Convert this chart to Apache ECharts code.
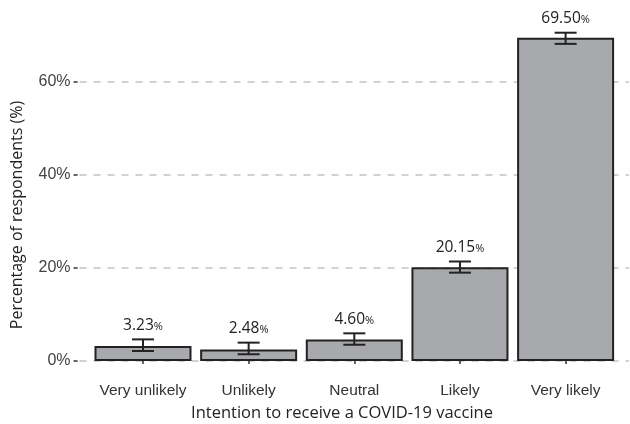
<!DOCTYPE html>
<html>
<head>
<meta charset="utf-8">
<script src="https://cdn.jsdelivr.net/npm/echarts@6/dist/echarts.min.js"></script>
<style>
  html, body { margin: 0; padding: 0; background: #fff; }
  #chart { width: 630px; height: 424px; }
</style>
</head>
<body>
<div id="chart"></div>
<script>
// intention categories and share of respondents (%)
const categories = ["Very unlikely", "Unlikely", "Neutral", "Likely", "Very likely"];
const percents = [3.23, 2.48, 4.60, 20.15, 69.50];
// error bar ends
const errLow = [2.15, 1.45, 3.5, 19.0, 68.2];
const errHigh = [4.65, 3.95, 5.95, 21.4, 70.6];
const yTicks = [0, 20, 40, 60];
const xTicks = [1, 2, 3, 4, 5];

const chart = echarts.init(document.getElementById("chart"));

const option = {
  animation: false,
  grid: {
    left: 79.6,
    right: 1,
    top: 12.25,
    bottom: 63,
  },
  xAxis: {
    type: "value",
    min: 0.4,
    max: 5.6,
    offset: 16,
    axisLine: { show: false },
    splitLine: { show: false },
    axisTick: {
      show: true,
      length: 3,
      customValues: xTicks,
      lineStyle: { color: "#333", width: 1.5 },
    },
    axisLabel: {
      customValues: xTicks,
      formatter: (v) => categories[Math.round(v) - 1],
      margin: 6,
      color: "#333",
      fontSize: 15.5,
      fontFamily: "Liberation Sans",
    },
  },
  yAxis: {
    type: "value",
    min: 0,
    max: 75,
    interval: 20,
    offset: 2,
    axisLine: { show: false },
    axisTick: {
      show: true,
      length: 4,
      customValues: yTicks,
      lineStyle: { color: "#333", width: 1.5 },
    },
    axisLabel: {
      customValues: yTicks,
      formatter: "{value}%",
      margin: 7,
      color: "#444",
      fontSize: 16,
      fontFamily: "Liberation Sans",
    },
    splitLine: {
      show: true,
      lineStyle: { type: [7, 7], color: "#d2d2d2", width: 2 },
    },
  },
  graphic: [
    {
      type: "text",
      x: 17,
      y: 215,
      rotation: Math.PI / 2,
      style: {
        text: "Percentage of respondents (%)",
        font: '16px "Open Sans"',
        fill: "#222",
        align: "center",
        verticalAlign: "middle",
      },
    },
    {
      type: "text",
      x: 342,
      y: 413,
      style: {
        text: "Intention to receive a COVID-19 vaccine",
        font: '16.5px "Open Sans"',
        fill: "#222",
        align: "center",
        verticalAlign: "middle",
      },
    },
  ],
  series: [
    {
      type: "bar",
      barWidth: 97,
      z: 2,
      data: percents.map((v, i) => [i + 1, v]),
      itemStyle: {
        color: "#a8a9ac",
        borderColor: "#222",
        borderWidth: 2,
      },
    },
    {
      type: "custom",
      z: 5,
      data: percents.map((v, i) => [i + 1, errLow[i], errHigh[i], v]),
      renderItem: (params, api) => {
        const x = api.value(0);
        const lo = api.coord([x, api.value(1)]);
        const hi = api.coord([x, api.value(2)]);
        const half = 11;
        const line = { stroke: "#222", lineWidth: 2, fill: null };
        return {
          type: "group",
          children: [
            { type: "line", shape: { x1: hi[0], y1: hi[1], x2: lo[0], y2: lo[1] }, style: line },
            { type: "line", shape: { x1: hi[0] - half, y1: hi[1], x2: hi[0] + half, y2: hi[1] }, style: line },
            { type: "line", shape: { x1: lo[0] - half, y1: lo[1], x2: lo[0] + half, y2: lo[1] }, style: line },
            {
              type: "text",
              x: hi[0],
              y: hi[1] - 14,
              style: {
                text: "{n|" + api.value(3).toFixed(2) + "}{p|%}",
                align: "center",
                verticalAlign: "middle",
                rich: {
                  n: { fontSize: 15.5, fontFamily: "Open Sans", fill: "#222", color: "#222" },
                  p: { fontSize: 11, fontFamily: "Open Sans", fill: "#222", color: "#222", padding: [3, 0, 0, 0] },
                },
              },
            },
          ],
        };
      },
    },
  ],
};

chart.setOption(option);
</script>
</body>
</html>
